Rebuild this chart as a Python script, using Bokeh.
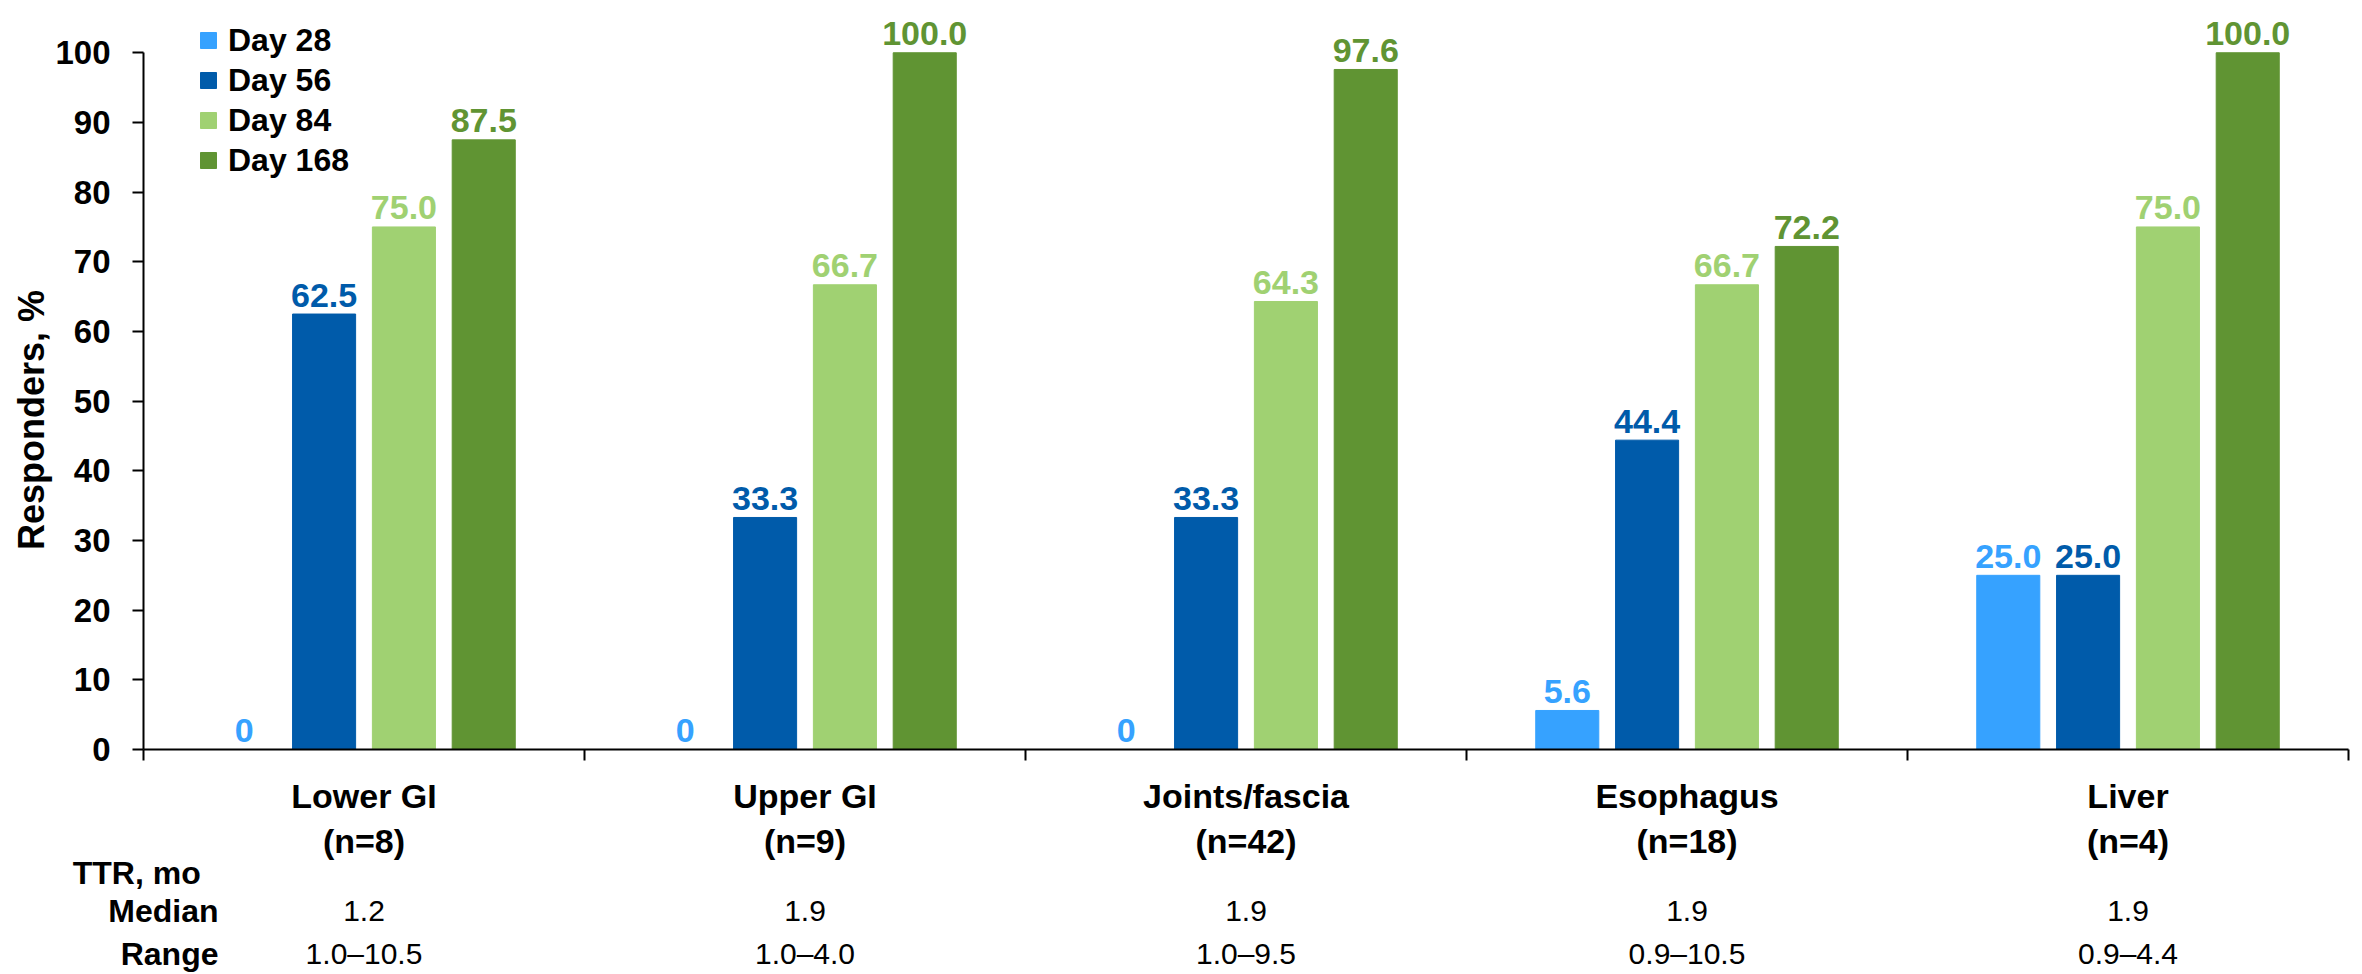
from bokeh.plotting import figure
from bokeh.models import ColumnDataSource, FixedTicker, Legend, LegendItem, Range1d
from bokeh.layouts import column
from bokeh.transform import dodge
from bokeh.core.properties import value
from bokeh.embed import file_html
from bokeh.resources import INLINE

# ---- data ----
categories = ["Lower GI", "Upper GI", "Joints/fascia", "Esophagus", "Liver"]
n_values = [8, 9, 42, 18, 4]
day28 = [0, 0, 0, 5.6, 25.0]
day56 = [62.5, 33.3, 33.3, 44.4, 25.0]
day84 = [75.0, 66.7, 64.3, 66.7, 75.0]
day168 = [87.5, 100.0, 97.6, 72.2, 100.0]
series_names = ["Day 28", "Day 56", "Day 84", "Day 168"]
ttr_median = ["1.2", "1.9", "1.9", "1.9", "1.9"]
ttr_range = ["1.0\u201310.5", "1.0\u20134.0", "1.0\u20139.5", "0.9\u201310.5", "0.9\u20134.4"]
ttr_row_labels = ["TTR, mo", "Median", "Range"]
y_ticks = [0, 10, 20, 30, 40, 50, 60, 70, 80, 90, 100]
y_title = "Responders, %"

# ---- style ----
FONT = "Liberation Sans"
colors = ["#36A2FF", "#005BAA", "#A0D172", "#609433"]
offsets = [-0.2715, -0.0905, 0.0905, 0.2715]
BAR_W = 0.143
W = 2362
LEFT, RIGHT = 143, 14
NBSP = "\u00a0"

def fmt(v):
    return "0" if v == 0 else f"{v:.1f}"

xs = list(range(len(categories)))
series = [day28, day56, day84, day168]
data = dict(x=xs)
for i, s in enumerate(series):
    data[f"s{i}"] = s
    data[f"l{i}"] = [fmt(v) for v in s]
src = ColumnDataSource(data)

# ---------------- main chart ----------------
p = figure(width=W, height=770, x_range=Range1d(-0.5, 4.5), y_range=Range1d(0, 107.5),
           output_backend="svg", toolbar_location=None,
           min_border_left=LEFT, min_border_right=RIGHT, min_border_top=0,
           min_border_bottom=21)
p.outline_line_color = None
p.xgrid.visible = False
p.ygrid.visible = False

items = []
for i in range(4):
    r = p.vbar(x=dodge("x", offsets[i], range=p.x_range), top=f"s{i}", width=BAR_W,
               source=src, fill_color=colors[i], line_color=colors[i])
    items.append(LegendItem(label=series_names[i], renderers=[r]))
    p.text(x=dodge("x", offsets[i], range=p.x_range), y=f"s{i}", text=f"l{i}",
           source=src, text_align="center", text_baseline="alphabetic", y_offset=-19,
           text_font=value(FONT), text_font_style="bold", text_font_size="34px",
           text_color=colors[i])

legend = Legend(items=items, location=(55, 569), orientation="vertical",
                glyph_width=20, glyph_height=20, label_height=40, spacing=0,
                padding=0, margin=0, label_standoff=10,
                label_text_font=FONT, label_text_font_style="bold",
                label_text_font_size="32px", label_text_color="black",
                border_line_color=None, background_fill_alpha=0)
p.add_layout(legend, "center")

ya = p.yaxis[0]
ya.bounds = (0, 100)
ya.ticker = FixedTicker(ticks=y_ticks)
ya.axis_line_width = 2
ya.axis_line_color = "black"
ya.major_tick_out = 11
ya.major_tick_in = 0
ya.major_tick_line_width = 2
ya.minor_tick_line_color = None
ya.major_label_standoff = 22
ya.major_label_text_font = FONT
ya.major_label_text_font_style = "bold"
ya.major_label_text_font_size = "33px"
ya.major_label_text_color = "black"
# trailing no-break spaces nudge the rotated title down, as in the original slide
ya.axis_label = y_title + NBSP * 9
ya.axis_label_text_font = FONT
ya.axis_label_text_font_style = "bold"
ya.axis_label_text_font_size = "36px"
ya.axis_label_text_color = "black"
ya.axis_label_standoff = 0

xa = p.xaxis[0]
xa.ticker = FixedTicker(ticks=[], minor_ticks=[i - 0.5 for i in range(len(categories) + 1)])
xa.axis_line_width = 2
xa.axis_line_color = "black"
xa.major_tick_line_color = None
xa.major_tick_out = 0
xa.major_tick_in = 0
xa.minor_tick_out = 11
xa.minor_tick_in = 0
xa.minor_tick_line_color = "black"
xa.minor_tick_line_width = 2
xa.major_label_standoff = 0

# ---------------- category labels + TTR table ----------------
TH = 974 - 770
ROW_Y = [102, 140, 183]
t = figure(width=W, height=TH, x_range=p.x_range, y_range=Range1d(TH, 0),
           output_backend="svg", toolbar_location=None,
           x_axis_type=None,
           min_border_left=LEFT, min_border_right=RIGHT, min_border_top=0,
           min_border_bottom=0)
t.outline_line_color = None
t.xgrid.visible = False
t.ygrid.visible = False

# row headings are the table's left-axis labels
ta = t.yaxis[0]
ta.ticker = FixedTicker(ticks=ROW_Y)
ta.major_label_overrides = {
    ROW_Y[0]: ttr_row_labels[0] + NBSP * 2,
    ROW_Y[1]: ttr_row_labels[1],
    ROW_Y[2]: ttr_row_labels[2],
}
ta.axis_line_color = None
ta.major_tick_line_color = None
ta.minor_tick_line_color = None
ta.major_tick_out = 0
ta.major_tick_in = 0
ta.major_label_standoff = -75
ta.major_label_text_font = FONT
ta.major_label_text_font_style = "bold"
ta.major_label_text_font_size = "32px"
ta.major_label_text_color = "black"

tsrc = ColumnDataSource(dict(
    x=xs,
    cat=categories,
    n=[f"(n={n})" for n in n_values],
    med=ttr_median,
    rng=ttr_range,
))
common = dict(source=tsrc, text_align="center", text_baseline="middle",
              text_font=value(FONT), text_color="black")
t.text(x="x", y=25, text="cat", text_font_style="bold", text_font_size="34px", **common)
t.text(x="x", y=70, text="n", text_font_style="bold", text_font_size="34px", **common)
t.text(x="x", y=ROW_Y[1], text="med", text_font_size="30px", **common)
t.text(x="x", y=ROW_Y[2], text="rng", text_font_size="30px", **common)

layout = column(p, t, spacing=0)
open("out.html", "w").write(file_html(layout, INLINE))
